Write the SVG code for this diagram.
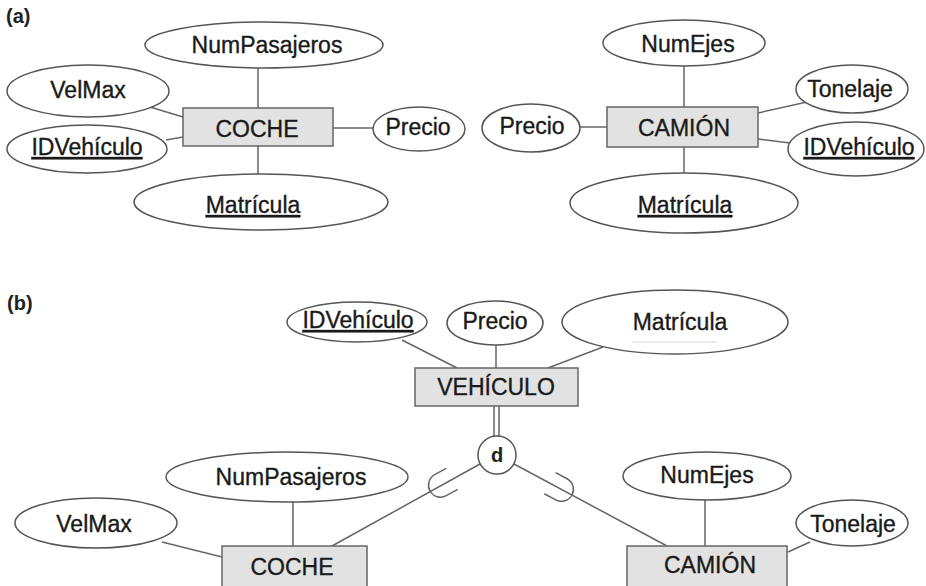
<svg xmlns="http://www.w3.org/2000/svg" width="926" height="586" viewBox="0 0 926 586">
<style>
.bg{fill:#ffffff}
.at{fill:#ffffff;stroke:#555;stroke-width:1.5}
.en{fill:#e2e2e2;stroke:#666;stroke-width:1.5}
.t{font-family:"Liberation Sans",Arial,sans-serif;font-size:23px;fill:#1a1a1a;stroke:#1a1a1a;stroke-width:0.35;text-anchor:middle}
.u{text-decoration:underline}
.lb{font-family:"Liberation Sans",Arial,sans-serif;font-size:20px;font-weight:bold;fill:#222}
.c{fill:none;stroke:#666;stroke-width:1.5}
</style>
<defs>
<path id="sub" d="M25,-12 L12,-12 A12 12 0 0 0 12,12 L25,12" fill="none" stroke="#666" stroke-width="1.5"/>
</defs>
<rect class="bg" x="0" y="0" width="926" height="586"/>
<text class="lb" x="6" y="23">(a)</text>
<text class="lb" x="7" y="310">(b)</text>

<g id="connectors">
<!-- (a) left -->
<line class="c" x1="258" y1="68" x2="258" y2="108"/>
<line class="c" x1="258" y1="146" x2="258" y2="174"/>
<line class="c" x1="150" y1="107" x2="183" y2="117"/>
<line class="c" x1="166" y1="140" x2="183" y2="137"/>
<line class="c" x1="333" y1="128" x2="373" y2="128"/>
<!-- (a) right -->
<line class="c" x1="684" y1="66" x2="684" y2="107"/>
<line class="c" x1="684" y1="147" x2="684" y2="173"/>
<line class="c" x1="580" y1="127" x2="607" y2="127"/>
<line class="c" x1="758" y1="113" x2="807" y2="102"/>
<line class="c" x1="758" y1="139" x2="790" y2="143"/>
<!-- (b) -->
<line class="c" x1="402" y1="340" x2="457" y2="368"/>
<line class="c" x1="496" y1="345" x2="496" y2="368"/>
<line class="c" x1="603" y1="347" x2="548" y2="368"/>
<line class="c" x1="494" y1="406" x2="494" y2="437"/>
<line class="c" x1="499" y1="406" x2="499" y2="437"/>
<line class="c" x1="480" y1="464" x2="332" y2="546"/>
<line class="c" x1="514" y1="464" x2="667" y2="546"/>
<use href="#sub" transform="translate(430,491) rotate(-28.9)"/>
<use href="#sub" transform="translate(572,495) rotate(208.2)"/>
<line class="c" x1="293" y1="502" x2="293" y2="546"/>
<line class="c" x1="162" y1="542" x2="222" y2="557"/>
<line class="c" x1="705" y1="500" x2="705" y2="546"/>
<line class="c" x1="810" y1="542" x2="788" y2="552"/>
</g>

<!-- (a) COCHE -->
<g id="a-coche"><rect class="en" x="183" y="108" width="150" height="38"/><text class="t" x="257" y="137">COCHE</text></g>
<g id="a-numpasajeros"><ellipse class="at" cx="264" cy="45" rx="119" ry="23"/><text class="t" x="267" y="53">NumPasajeros</text></g>
<g id="a-velmax"><ellipse class="at" cx="88" cy="91" rx="81" ry="26"/><text class="t" x="88" y="98">VelMax</text></g>
<g id="a-idvehiculo1"><ellipse class="at" cx="87" cy="149" rx="80" ry="24"/><text class="t u" x="87" y="155">IDVehículo</text></g>
<g id="a-precio1"><ellipse class="at" cx="419" cy="129" rx="46" ry="22"/><text class="t" x="418" y="135">Precio</text></g>
<g id="a-matricula1"><ellipse class="at" cx="261" cy="202" rx="127" ry="28"/><text class="t u" x="253" y="213">Matrícula</text></g>

<!-- (a) CAMIÓN -->
<g id="a-camion"><rect class="en" x="607" y="107" width="151" height="40"/><text class="t" x="684" y="136">CAMIÓN</text></g>
<g id="a-numejes"><ellipse class="at" cx="684" cy="43" rx="81" ry="23"/><text class="t" x="688" y="52">NumEjes</text></g>
<g id="a-tonelaje"><ellipse class="at" cx="852" cy="89" rx="56" ry="24"/><text class="t" x="850" y="97">Tonelaje</text></g>
<g id="a-idvehiculo2"><ellipse class="at" cx="856" cy="149" rx="68" ry="27"/><text class="t u" x="859" y="155">IDVehículo</text></g>
<g id="a-precio2"><ellipse class="at" cx="531" cy="128" rx="49" ry="24"/><text class="t" x="532" y="134">Precio</text></g>
<g id="a-matricula2"><ellipse class="at" cx="684" cy="203" rx="114" ry="30"/><text class="t u" x="685" y="213">Matrícula</text></g>

<!-- (b) -->
<g id="b-vehiculo"><rect class="en" x="415" y="368" width="163" height="38"/><text class="t" x="496" y="395">VEHÍCULO</text></g>
<g id="b-idvehiculo"><ellipse class="at" cx="357" cy="322" rx="70" ry="20"/><text class="t u" x="358" y="328">IDVehículo</text></g>
<g id="b-precio"><ellipse class="at" cx="495" cy="323" rx="48" ry="22"/><text class="t" x="495" y="329">Precio</text></g>
<g id="b-matricula"><ellipse class="at" cx="675" cy="322" rx="113" ry="32"/><text class="t" x="680" y="330">Matrícula</text><line x1="632" y1="342" x2="717" y2="342" stroke="#d4d4d4" stroke-width="1"/></g>
<g id="b-d"><circle cx="497" cy="455" r="19" fill="#fff" stroke="#555" stroke-width="1.5"/><text x="497" y="462" font-family="Liberation Sans, Arial, sans-serif" font-size="20" font-weight="bold" fill="#222" text-anchor="middle">d</text></g>
<g id="b-coche"><rect class="en" x="222" y="546" width="145" height="50"/><text class="t" x="292" y="575">COCHE</text></g>
<g id="b-numpasajeros"><ellipse class="at" cx="287" cy="477" rx="121" ry="25"/><text class="t" x="291" y="485">NumPasajeros</text></g>
<g id="b-velmax"><ellipse class="at" cx="96" cy="523" rx="81" ry="25"/><text class="t" x="94" y="532">VelMax</text></g>
<g id="b-camion"><rect class="en" x="627" y="546" width="160" height="50"/><text class="t" x="710" y="573">CAMIÓN</text></g>
<g id="b-numejes"><ellipse class="at" cx="707" cy="476" rx="84" ry="24"/><text class="t" x="707" y="483">NumEjes</text></g>
<g id="b-tonelaje"><ellipse class="at" cx="852" cy="523" rx="56" ry="23"/><text class="t" x="853" y="532">Tonelaje</text></g>
</svg>
